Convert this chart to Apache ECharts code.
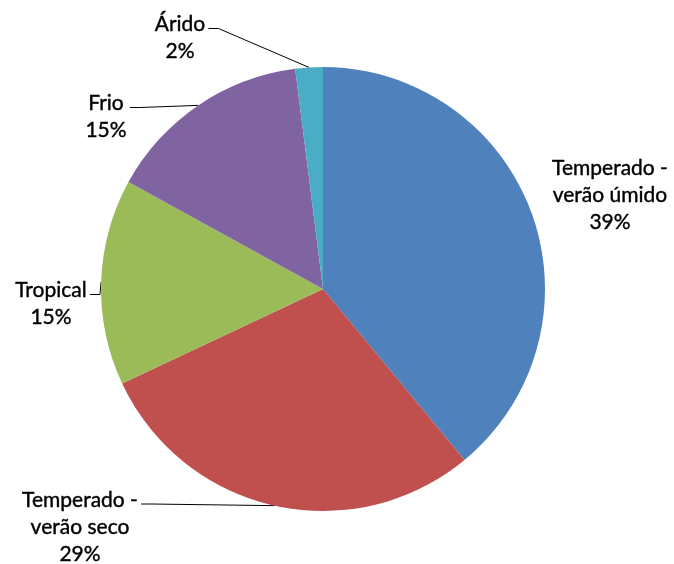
<!DOCTYPE html>
<html>
<head>
<meta charset="utf-8">
<title>Clima</title>
<script src="https://cdn.jsdelivr.net/npm/echarts@6/dist/echarts.min.js"></script>
<style>
  html, body { margin: 0; padding: 0; background: #ffffff; }
  #chart { width: 674px; height: 564px; }
</style>
</head>
<body>
<div id="chart"></div>
<script>
// Climate groups and their shares (%)
const categories = [
  'Temperado - verão úmido',
  'Temperado - verão seco',
  'Tropical',
  'Frio',
  'Árido'
];
const shares = [39, 29, 15, 15, 2];
const colors = ['#4F81BD', '#C0504D', '#9BBB59', '#8064A2', '#4BACC6'];

// Layout of the pie and its labels
const CENTER = [323, 289];
const RADIUS = 222;
const LINE_H = 27;
// label block centres and whether a leader line is drawn
const labelSpots = [[610, 195], [80, 527], [51, 304], [106, 117], [180, 38]];
const leaderShown = [false, true, true, true, true];

const total = shares.reduce((a, b) => a + b, 0);
const midAngles = [];
(function () {
  let acc = 0;
  shares.forEach(v => {
    midAngles.push((acc + v / 2) / total * 2 * Math.PI);
    acc += v;
  });
})();

const chart = echarts.init(document.getElementById('chart'), null, { renderer: 'canvas' });

chart.setOption({
  animation: false,
  backgroundColor: '#ffffff',
  color: colors,
  series: [{
    type: 'pie',
    center: CENTER,
    radius: RADIUS,
    startAngle: 90,
    clockwise: true,
    avoidLabelOverlap: false,
    itemStyle: { borderWidth: 0 },
    label: {
      show: true,
      position: 'outside',
      color: '#000000',
      fontFamily: 'Lato',
      fontWeight: 'normal',
      fontSize: 21,
      lineHeight: LINE_H,
      align: 'center',
      textBorderColor: '#000000',
      textBorderWidth: 0.4,
      formatter: p => p.name.replace(' - ', ' -\n') + '\n' + p.value + '%'
    },
    labelLine: {
      show: true,
      lineStyle: { color: '#000000', width: 1 }
    },
    labelLayout: function (params) {
      const i = params.dataIndex;
      const spot = labelSpots[i];
      const w = params.labelRect.width;
      const h = params.labelRect.height;
      const out = { x: spot[0], y: spot[1], align: 'center', verticalAlign: 'middle' };
      if (leaderShown[i]) {
        const ax = spot[0] + w / 2 + 3;
        const ay = spot[1] - h / 2 + LINE_H / 2 + 4;
        const a = midAngles[i];
        const px = CENTER[0] + RADIUS * Math.sin(a);
        const py = CENTER[1] - RADIUS * Math.cos(a);
        out.labelLinePoints = [[px, py], [ax + 10, ay], [ax, ay]];
      }
      return out;
    },
    data: categories.map((name, i) => ({
      name: name,
      value: shares[i],
      labelLine: { show: leaderShown[i] }
    }))
  }]
});
</script>
</body>
</html>
